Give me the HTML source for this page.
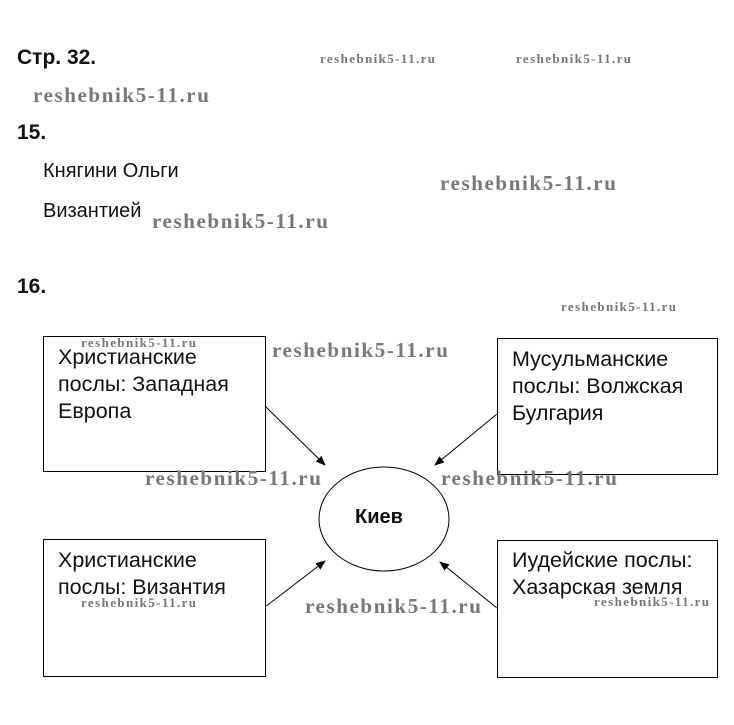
<!DOCTYPE html>
<html><head><meta charset="utf-8"><style>
body{margin:0;width:734px;height:725px;background:#fff;position:relative;overflow:hidden;font-family:"Liberation Sans",Arial,sans-serif;color:#111}
.a{position:absolute;white-space:nowrap}
.b{font-weight:bold;font-size:21px}
.t{font-size:20px}
.w{position:absolute;white-space:nowrap;font-family:"Liberation Serif",serif;font-weight:bold;color:#777;font-size:21px;letter-spacing:1.6px}
.ws{position:absolute;white-space:nowrap;font-family:"Liberation Serif",serif;font-weight:bold;color:#777;font-size:13px;letter-spacing:1.4px}
.bt{position:absolute;font-size:21.5px;line-height:27px;white-space:nowrap}
</style></head><body>
<div class="a b" style="left:17px;top:46px">Стр. 32.</div>
<div class="ws" style="left:320px;top:51px">reshebnik5-11.ru</div>
<div class="ws" style="left:516px;top:51px">reshebnik5-11.ru</div>
<div class="w" style="left:33px;top:83px">reshebnik5-11.ru</div>
<div class="a b" style="left:17px;top:121px">15.</div>
<div class="a t" style="left:43px;top:160px">Княгини Ольги</div>
<div class="w" style="left:440px;top:171px">reshebnik5-11.ru</div>
<div class="a t" style="left:43px;top:200px">Византией</div>
<div class="w" style="left:152px;top:209px">reshebnik5-11.ru</div>
<div class="a b" style="left:17px;top:275px">16.</div>
<div class="ws" style="left:561px;top:299px">reshebnik5-11.ru</div>

<svg style="position:absolute;left:0;top:0" width="734" height="725">
<defs><marker id="m" markerWidth="10" markerHeight="8" refX="9" refY="4" orient="auto" markerUnits="userSpaceOnUse"><path d="M0,0 L10,4 L0,8 Z" fill="#000"/></marker></defs>
<rect x="43.5" y="336.5" width="222" height="135" fill="none" stroke="#000"/>
<rect x="497.5" y="338.5" width="220" height="136" fill="none" stroke="#000"/>
<rect x="43.5" y="539.5" width="222" height="137" fill="none" stroke="#000"/>
<rect x="497.5" y="540.5" width="220" height="137" fill="none" stroke="#000"/>
<ellipse cx="384" cy="519" rx="65" ry="52" fill="none" stroke="#000"/>
<line x1="265" y1="406" x2="325" y2="465" stroke="#000" marker-end="url(#m)"/>
<line x1="497" y1="414" x2="435" y2="465" stroke="#000" marker-end="url(#m)"/>
<line x1="265" y1="607" x2="325" y2="561" stroke="#000" marker-end="url(#m)"/>
<line x1="497" y1="608" x2="440" y2="562" stroke="#000" marker-end="url(#m)"/>
</svg>
<div class="ws" style="left:81px;top:335px">reshebnik5-11.ru</div>
<div class="bt" style="left:58px;top:344px">Христианские<br>послы: Западная<br>Европа</div>
<div class="w" style="left:272px;top:338px">reshebnik5-11.ru</div>
<div class="bt" style="left:512px;top:346px">Мусульманские<br>послы: Волжская<br>Булгария</div>
<div class="w" style="left:145px;top:466px">reshebnik5-11.ru</div>
<div class="w" style="left:441px;top:466px">reshebnik5-11.ru</div>
<div class="a" style="left:355px;top:506px;font-weight:bold;font-size:20px">Киев</div>
<div class="bt" style="left:58px;top:547px">Христианские<br>послы: Византия</div>
<div class="ws" style="left:81px;top:595px">reshebnik5-11.ru</div>
<div class="bt" style="left:512px;top:547px">Иудейские послы:<br>Хазарская земля</div>
<div class="ws" style="left:594px;top:594px">reshebnik5-11.ru</div>
<div class="w" style="left:305px;top:594px">reshebnik5-11.ru</div>
</body></html>
